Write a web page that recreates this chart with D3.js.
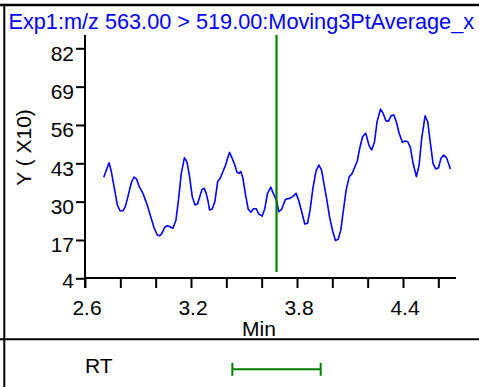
<!DOCTYPE html>
<html>
<head>
<meta charset="utf-8">
<script src="https://cdn.jsdelivr.net/npm/d3@7"></script>
<style>
  html, body { margin: 0; padding: 0; background: #fff; }
  svg { display: block; }
  text { font-family: "Liberation Sans", Arial, sans-serif; font-size: 21px; }
</style>
</head>
<body>
<svg id="chart" width="479" height="387"></svg>
<script>
// ---- data ----
const titleText = "Exp1:m/z 563.00 > 519.00:Moving3PtAverage_x";
const yAxisLabel = "Y ( X10)";
const xAxisLabel = "Min";
const rtLabel = "RT";
const xTicks = [2.6, 2.8, 3.0, 3.2, 3.4, 3.6, 3.8, 4.0, 4.2, 4.4, 4.6];
const xTickLabels = ["2.6", "", "", "3.2", "", "", "3.8", "", "", "4.4", ""];
const yTicks = [4, 17, 30, 43, 56, 69, 82];
const rtCenter = 3.684;
const rtHalfWindow = 0.25;
const times = [2.706,2.736,2.749,2.768,2.783,2.798,2.815,2.828,2.843,2.862,2.877,2.892,2.907,2.928,2.952,2.972,2.990,3.009,3.023,3.036,3.051,3.066,3.081,3.098,3.115,3.130,3.145,3.163,3.177,3.192,3.207,3.222,3.237,3.252,3.263,3.275,3.286,3.297,3.305,3.320,3.335,3.351,3.365,3.381,3.396,3.407,3.418,3.433,3.448,3.460,3.471,3.482,3.494,3.509,3.524,3.539,3.554,3.569,3.584,3.603,3.618,3.633,3.652,3.667,3.683,3.697,3.713,3.735,3.758,3.776,3.795,3.810,3.829,3.844,3.860,3.874,3.890,3.908,3.924,3.939,3.954,3.969,3.984,4.003,4.018,4.033,4.048,4.063,4.078,4.096,4.111,4.126,4.141,4.155,4.171,4.189,4.208,4.223,4.239,4.253,4.273,4.287,4.303,4.318,4.333,4.348,4.363,4.378,4.397,4.412,4.427,4.442,4.457,4.476,4.491,4.506,4.525,4.540,4.555,4.570,4.585,4.601,4.615,4.631,4.646,4.661,4.668];
const values = [38.3,43.2,40.2,33.9,28.9,26.9,26.9,28.3,31.7,36.4,38.3,37.6,35.1,32.8,28.9,24.9,21.3,18.7,18.4,19.3,21.3,21.8,21.5,21.0,23.8,31.1,39.6,44.9,43.5,38.5,31.7,28.9,29.2,32.2,34.2,34.5,32.8,30.0,27.2,27.5,30.0,36.8,37.9,40.2,42.4,44.7,46.7,44.7,42.4,40.0,39.6,40.2,37.9,32.2,27.4,26.4,27.6,27.6,25.8,25.1,27.7,32.8,34.9,32.6,30.6,26.6,27.4,30.8,31.1,31.7,32.8,30.3,26.0,22.4,22.7,27.2,34.5,40.5,42.4,40.7,35.6,30.6,24.9,19.8,16.8,17.2,20.4,27.2,33.9,38.5,39.4,41.6,43.7,48.1,52.0,53.2,49.0,47.5,50.3,57.1,61.4,60.0,57.4,57.3,59.1,59.4,56.9,53.2,50.1,50.6,50.3,48.3,43.0,38.5,42.4,51.5,59.1,57.1,49.8,43.0,41.1,41.5,44.7,45.8,44.9,42.4,41.1];

// ---- layout ----
const svg = d3.select("#chart");
const W = 479, H = 387;
const x = d3.scaleLinear().domain([2.6, 4.7]).range([85, 456]);
const y = d3.scaleLinear().domain([4, 82]).range([278.3, 48.3]);
const axisY = 278;       // x-axis baseline position
const plotTop = 35;

// frame lines
svg.append("line").attr("x1", 0).attr("x2", W).attr("y1", 5).attr("y2", 5)
  .attr("stroke", "#000").attr("stroke-width", 2.5);
svg.append("line").attr("x1", 4.3).attr("x2", 4.3).attr("y1", 4).attr("y2", H)
  .attr("stroke", "#000").attr("stroke-width", 2);
svg.append("line").attr("x1", 0).attr("x2", W).attr("y1", 339.3).attr("y2", 339.3)
  .attr("stroke", "#000").attr("stroke-width", 2);

// title
svg.append("text").attr("x", 8.5).attr("y", 29).attr("fill", "#0000ff")
  .style("font-size", "21.7px").text(titleText);

// line
const line = d3.line().x((d, i) => x(times[i])).y(d => y(d)).curve(d3.curveLinear);
svg.append("path").datum(values).attr("d", line)
  .attr("fill", "none").attr("stroke", "#0000ff").attr("stroke-width", 1.6)
  .attr("stroke-linejoin", "round");

// RT marker
svg.append("line").attr("x1", x(rtCenter)).attr("x2", x(rtCenter))
  .attr("y1", plotTop).attr("y2", 272)
  .attr("stroke", "#008000").attr("stroke-width", 2.2);

// x axis
const xAxis = d3.axisBottom(x).tickValues(xTicks)
  .tickFormat((d, i) => xTickLabels[i]).tickSize(10).tickSizeOuter(0).tickPadding(10);
const gx = svg.append("g").attr("transform", `translate(0,${axisY})`).call(xAxis);
gx.select(".domain").remove();
gx.selectAll(".tick line").attr("stroke", "#000").attr("stroke-width", 2);
gx.selectAll(".tick text").attr("fill", "#000")
  .attr("dx", 1.5).attr("dy", 0).attr("y", 37);
svg.append("line").attr("x1", 84).attr("x2", x(4.7)).attr("y1", axisY).attr("y2", axisY)
  .attr("stroke", "#000").attr("stroke-width", 2);

// y axis
const yAxis = d3.axisLeft(y).tickValues(yTicks).tickSize(9).tickSizeOuter(0).tickPadding(2);
const gy = svg.append("g").attr("transform", "translate(85,0)").call(yAxis);
gy.select(".domain").remove();
gy.selectAll(".tick line").attr("stroke", "#000").attr("stroke-width", 2);
gy.selectAll(".tick text").attr("fill", "#000")
  .attr("dy", d => d === 4 ? "0.6em" : "0.75em").attr("y", d => d === 4 ? -3.6 : -4);
svg.append("line").attr("x1", 85).attr("x2", 85).attr("y1", plotTop).attr("y2", 288)
  .attr("stroke", "#000").attr("stroke-width", 2);

// axis titles
svg.append("text").attr("x", 259).attr("y", 335.5).attr("text-anchor", "middle")
  .attr("fill", "#000").text(xAxisLabel);
svg.append("text").attr("transform", "translate(31,147.5) rotate(-90)")
  .attr("text-anchor", "middle").attr("fill", "#000").text(yAxisLabel);

// RT row
svg.append("text").attr("x", 85).attr("y", 372.5).attr("fill", "#000").text(rtLabel);
const rtY = 369.3;
const g = svg.append("g").attr("stroke", "#008000").attr("stroke-width", 2);
g.append("line").attr("x1", x(rtCenter - rtHalfWindow)).attr("x2", x(rtCenter + rtHalfWindow))
  .attr("y1", rtY).attr("y2", rtY);
[rtCenter - rtHalfWindow, rtCenter + rtHalfWindow].forEach(v => {
  g.append("line").attr("x1", x(v)).attr("x2", x(v)).attr("y1", rtY - 6.5).attr("y2", rtY + 6.5);
});
</script>
</body>
</html>
